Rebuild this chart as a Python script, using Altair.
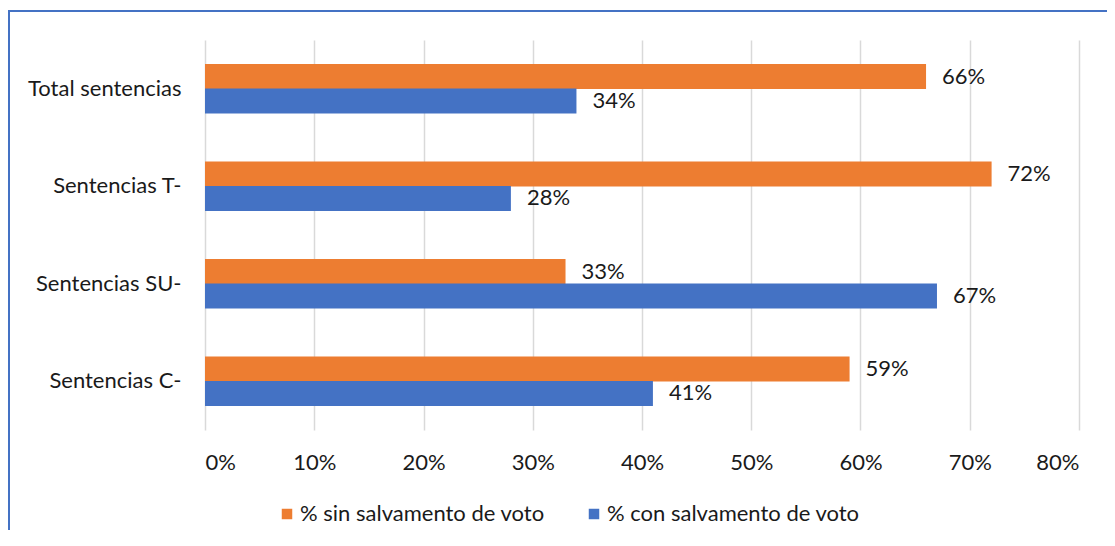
import altair as alt
import pandas as pd

categories = ["Total sentencias", "Sentencias T-", "Sentencias SU-", "Sentencias C-"]
series = ["% sin salvamento de voto", "% con salvamento de voto"]
sin_voto = [0.66, 0.72, 0.33, 0.59]
con_voto = [0.34, 0.28, 0.67, 0.41]
x_ticks = [0, 0.1, 0.2, 0.3, 0.4, 0.5, 0.6, 0.7, 0.8]
colors = ["#ED7D31", "#4472C4"]

rows = []
for c, a, b in zip(categories, sin_voto, con_voto):
    rows.append({"cat": c, "serie": series[0], "val": a})
    rows.append({"cat": c, "serie": series[1], "val": b})
df = pd.DataFrame(rows)

FONT = "Lato"
FS = 22
TXT = "#1a1a1a"
W, H = 874, 390

y_enc = alt.Y("cat:N", sort=categories, title=None,
              scale=alt.Scale(paddingInner=0.5, paddingOuter=0.25),
              axis=alt.Axis(domain=False, ticks=False, labelPadding=24,
                            labelFont=FONT, labelFontSize=FS, labelColor=TXT,
                            labelFontWeight="normal", labelLimit=300, grid=False))
x_enc = alt.X("val:Q", title=None,
              scale=alt.Scale(domain=[0, 0.8], nice=False),
              axis=alt.Axis(values=x_ticks, format=".0%", domain=False, ticks=False,
                            labelPadding=22, labelFont=FONT, labelFontSize=FS,
                            labelColor=TXT, grid=True, gridColor="#D9D9D9",
                            gridWidth=1.5))
yoff = alt.YOffset("serie:N", sort=series)

bars = alt.Chart(df).mark_bar(size=25).encode(
    y=y_enc, x=x_enc, yOffset=yoff,
    color=alt.Color("serie:N", sort=series,
                    scale=alt.Scale(domain=series, range=colors),
                    legend=alt.Legend(title=None, orient="none", direction="horizontal",
                                      legendX=71, legendY=463,
                                      symbolType="square", symbolSize=110,
                                      symbolStrokeWidth=0, labelFont=FONT,
                                      labelFontSize=FS, labelColor=TXT,
                                      labelLimit=400,
                                      labelOffset=2, columnPadding=38)),
)

labels = alt.Chart(df).mark_text(align="left", baseline="middle", dx=16,
                                 font=FONT, fontSize=FS, color=TXT).encode(
    y=alt.Y("cat:N", sort=categories), x="val:Q", yOffset=yoff,
    text=alt.Text("val:Q", format=".0%"),
)

top_border = alt.Chart(pd.DataFrame({"k": [0]})).mark_rule(color="#4472C4", strokeWidth=2).encode(
    x=alt.value(-197), x2=alt.value(W + 30), y=alt.value(-29))
left_border = alt.Chart(pd.DataFrame({"k": [0]})).mark_rule(color="#4472C4", strokeWidth=2).encode(
    x=alt.value(-196), y=alt.value(-29), y2=alt.value(H + 100))

chart = alt.layer(bars, labels, top_border, left_border).properties(
    width=W, height=H,
    autosize=alt.AutoSizeParams(type="none"),
    padding={"left": 197, "top": 32, "right": 28, "bottom": 100},
).configure(background="white").configure_view(strokeWidth=0, stroke="transparent")

chart.save("out.html", embed_options={"renderer": "svg", "actions": False})
